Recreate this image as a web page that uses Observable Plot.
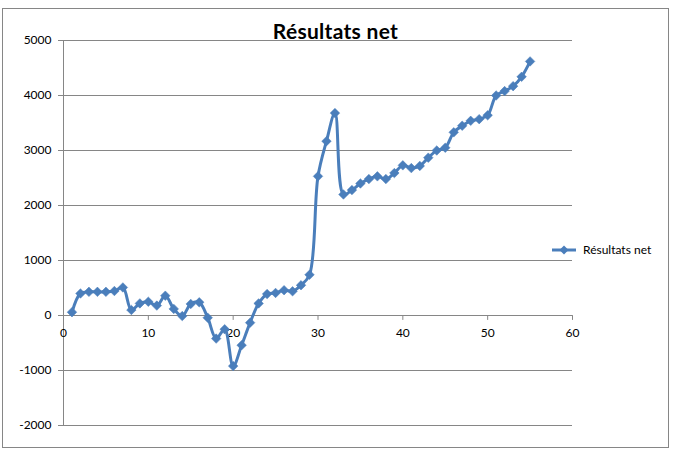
<!DOCTYPE html>
<html><head><meta charset="utf-8">
<script src="https://cdn.jsdelivr.net/npm/d3@7"></script>
<script src="https://cdn.jsdelivr.net/npm/@observablehq/plot@0.6"></script>
<style>
html,body{margin:0;padding:0;background:#fff;font-family:Lato,"DejaVu Sans",sans-serif}
#wrap{position:relative;width:673px;height:452px;overflow:hidden}
#border{position:absolute;left:2px;top:8px;width:667px;height:440px;border:1px solid #868686;box-sizing:border-box;pointer-events:none}
#title{position:absolute;left:0;width:671px;text-align:center;top:18px;font-weight:bold;font-size:21px;letter-spacing:0.3px;line-height:26px;color:#000}
#legend{position:absolute;left:552px;top:242px;font-size:12px;line-height:16px;display:flex;align-items:center;color:#000}
#legend svg{margin-right:7px}
#chart{position:absolute;left:0;top:0}
</style>
</head><body>
<div id="wrap">
  <div id="border"></div>
  <div id="chart"></div>
  <div id="title">Résultats net</div>
  <div id="legend"></div>
</div>
<script>
const seriesName = "Résultats net";
const periods = [1,2,3,4,5,6,7,8,9,10,11,12,13,14,15,16,17,18,19,20,21,22,23,24,25,26,27,28,29,30,31,32,33,34,35,36,37,38,39,40,41,42,43,44,45,46,47,48,49,50,51,52,53,54,55];
const values = [60,400,430,430,430,445,510,100,220,250,180,360,120,-10,210,240,-40,-420,-250,-920,-540,-130,220,390,410,460,440,550,740,2530,3170,3680,2200,2280,2400,2480,2530,2480,2590,2730,2680,2720,2870,3000,3050,3330,3450,3540,3570,3640,4000,4080,4170,4340,4620];
const xTicks = [0,10,20,30,40,50,60];
const yTicks = [-2000,-1000,0,1000,2000,3000,4000,5000];

const blue = "#4A7EBB";
const grid = "#868686";
const tickShape = {draw(ctx, l){ ctx.moveTo(0,0); ctx.lineTo(0,-l); }};

const chart = Plot.plot({
  width: 673, height: 452,
  marginLeft: 63, marginRight: 101, marginTop: 40, marginBottom: 27,
  style: {fontFamily: "Lato, sans-serif", fontSize: "12px", color: "#000", background: "transparent"},
  x: {domain: [0, 60], axis: null},
  y: {domain: [-2000, 5000]},
  marks: [
    Plot.ruleY(yTicks, {stroke: grid, strokeWidth: 1}),
    Plot.ruleX([0], {stroke: grid, strokeWidth: 1}),
    Plot.axisY(yTicks, {tickSize: 5, tickPadding: 7, stroke: grid, fill: "#000", label: null, tickFormat: d => String(d)}),
    Plot.vector(xTicks, {x: d => d, y: 0, length: 4, rotate: 180, anchor: "start", shape: tickShape, stroke: grid, strokeWidth: 1}),
    Plot.text(xTicks, {x: d => d, y: 0, dy: 18, text: d => String(d), fill: "#000", fontSize: 12}),
    Plot.line(values, {x: periods, y: values, stroke: blue, strokeWidth: 3, curve: "catmull-rom"}),
    Plot.dot(values, {x: periods, y: values, symbol: "square", rotate: 45, r: 3.8, fill: blue, stroke: blue, strokeWidth: 0.5})
  ]
});
document.getElementById("chart").appendChild(chart);

document.getElementById("legend").innerHTML =
  `<svg width="24" height="12"><line x1="0" y1="6" x2="24" y2="6" stroke="${blue}" stroke-width="3"/>` +
  `<path d="M12,1.5L16.5,6L12,10.5L7.5,6Z" fill="${blue}"/></svg><span>${seriesName}</span>`;
</script>
</body></html>
